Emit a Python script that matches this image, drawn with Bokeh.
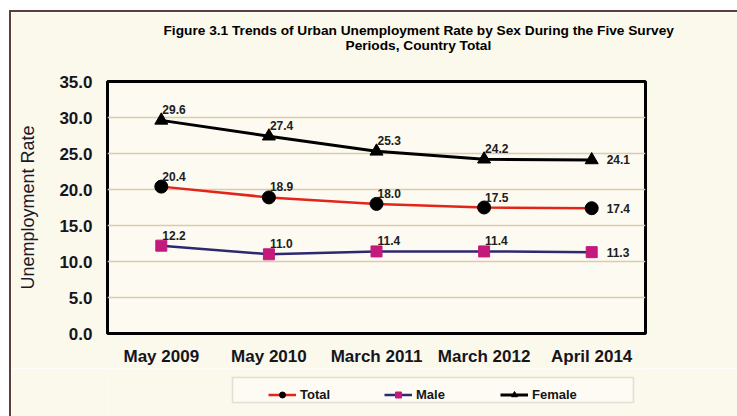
from bokeh.plotting import figure
from bokeh.layouts import column
from bokeh.models import (FactorRange, Range1d, ColumnDataSource, LabelSet, Title,
                          Legend, LegendItem, FixedTicker, PrintfTickFormatter, BoxAnnotation)
from bokeh.core.properties import value
from bokeh.embed import file_html
from bokeh.resources import INLINE

periods = ["May 2009", "May 2010", "March 2011", "March 2012", "April 2014"]
total = [20.4, 18.9, 18.0, 17.5, 17.4]
male = [12.2, 11.0, 11.4, 11.4, 11.3]
female = [29.6, 27.4, 25.3, 24.2, 24.1]
y_ticks = [0, 5, 10, 15, 20, 25, 30, 35]
title_line1 = "Figure 3.1  Trends of Urban Unemployment Rate by Sex During the Five Survey"
title_line2 = "Periods, Country Total"
y_label = "Unemployment Rate"
series_names = ["Total", "Male", "Female"]

BG = "#fbf8ec"
FONT = "Liberation Sans"
W = 726

total_style = dict(line_color="#e3241b", line_width=2.5)
male_style = dict(line_color="#2d2870", line_width=2.5)
female_style = dict(line_color="black", line_width=3)
total_mk = dict(marker="circle", size=13, fill_color="black", line_color="black")
male_mk = dict(marker="square", size=11, fill_color="#c41a7c", line_color="#c41a7c")
female_mk = dict(marker="triangle", size=13, fill_color="black", line_color="black")

src = ColumnDataSource(dict(x=periods, total=total, male=male, female=female))

# ---- main chart ----
p = figure(x_range=FactorRange(factors=periods, range_padding=0),
           y_range=Range1d(0, 35), width=W, height=356, title=None,
           output_backend="svg", toolbar_location=None,
           min_border_left=96, min_border_right=92, min_border_top=69, min_border_bottom=35)

p.border_fill_color = BG
p.background_fill_color = "#fcfaf1"
p.outline_line_color = "black"
p.outline_line_width = 3

p.xgrid.grid_line_color = None
p.ygrid.grid_line_color = "#dccbb3"
p.ygrid.grid_line_width = 1.5

p.yaxis.ticker = FixedTicker(ticks=y_ticks)
p.yaxis.formatter = PrintfTickFormatter(format="%.1f")
for ax in (p.xaxis[0], p.yaxis[0]):
    ax.axis_line_color = None
    ax.major_tick_line_color = None
    ax.minor_tick_line_color = None
    ax.major_tick_out = 0
    ax.major_tick_in = 0
    ax.minor_tick_out = 0
    ax.major_label_text_font = FONT
    ax.major_label_text_font_style = "bold"
    ax.major_label_text_font_size = "17px"
    ax.major_label_text_color = "#151520"
p.yaxis.major_label_standoff = 15
p.xaxis.major_label_standoff = 13

yax = p.yaxis[0]
yax.axis_label = y_label
yax.axis_label_text_font = FONT
yax.axis_label_text_font_style = "normal"
yax.axis_label_text_font_size = "18px"
yax.axis_label_text_color = "#1a1a2a"
yax.axis_label_standoff = 18

p.line("x", "total", source=src, **total_style)
p.scatter("x", "total", source=src, **total_mk)
p.line("x", "male", source=src, **male_style)
p.scatter("x", "male", source=src, **male_mk)
p.line("x", "female", source=src, **female_style)
p.scatter("x", "female", source=src, **female_mk)


def sub(lo, hi):
    return ColumnDataSource(dict(x=periods[lo:hi], total=total[lo:hi], male=male[lo:hi],
                                 female=female[lo:hi],
                                 tl=["%.1f" % v for v in total[lo:hi]],
                                 ml=["%.1f" % v for v in male[lo:hi]],
                                 fl=["%.1f" % v for v in female[lo:hi]]))


first4 = sub(0, 4)
last = sub(4, 5)
for col_, lab in (("total", "tl"), ("male", "ml"), ("female", "fl")):
    p.add_layout(LabelSet(x="x", y=col_, text=lab, source=first4, x_offset=1, y_offset=6,
                          text_align="left", text_baseline="alphabetic",
                          text_font=value(FONT), text_font_style="bold", text_font_size="12px",
                          text_color="#202020"))
    p.add_layout(LabelSet(x="x", y=col_, text=lab, source=last, x_offset=15, y_offset=0,
                          text_align="left", text_baseline="middle",
                          text_font=value(FONT), text_font_style="bold", text_font_size="12px",
                          text_color="#202020"))

# titles: spacer (closest to frame), line 2, then line 1
tstyle = dict(text_font=FONT, text_font_style="bold", text_font_size="13.7px", text_color="black")
p.add_layout(Title(text=" ", align="left", offset=0, standoff=11.5, **tstyle), "above")
p.add_layout(Title(text=title_line2, align="left", offset=238, standoff=0, **tstyle), "above")
p.add_layout(Title(text=title_line1, align="left", offset=56, standoff=-4, **tstyle), "above")

# ---- legend strip (same frame columns as the chart, data kept off-view) ----
fl = figure(width=W, height=48, x_range=FactorRange(factors=periods, range_padding=0),
            y_range=Range1d(100, 148), x_axis_type=None, y_axis_type=None, title=None,
            output_backend="svg", toolbar_location=None,
            min_border_left=96, min_border_right=92, min_border_top=0, min_border_bottom=0)
fl.border_fill_color = BG
fl.background_fill_color = BG
fl.outline_line_color = None
fl.xgrid.grid_line_color = None
fl.ygrid.grid_line_color = None
fl.add_layout(BoxAnnotation(left=1.162, right=4.888, bottom=114, top=139,
                            fill_color="#fdfbf3", fill_alpha=1,
                            line_color="#a9a39a", line_width=1.5))
rt = [fl.line("x", "total", source=src, **total_style), fl.scatter("x", "total", source=src, **total_mk)]
rm = [fl.line("x", "male", source=src, **male_style), fl.scatter("x", "male", source=src, **male_mk)]
rf = [fl.line("x", "female", source=src, **female_style), fl.scatter("x", "female", source=src, **female_mk)]
legend = Legend(items=[LegendItem(label=series_names[0], renderers=rt),
                       LegendItem(label=series_names[1], renderers=rm),
                       LegendItem(label=series_names[2], renderers=rf)],
                orientation="horizontal", location=(161, 14), margin=0,
                border_line_color=None, background_fill_alpha=0,
                padding=5, spacing=24, glyph_width=28, glyph_height=15,
                label_standoff=4, label_width=60, label_height=15,
                label_text_font=FONT, label_text_font_style="bold",
                label_text_font_size="13px", label_text_color="#151515")
fl.add_layout(legend, "center")

layout = column(p, fl, spacing=0)
layout.margin = (10, 0, 0, 9)
layout.styles = {"border-left": "2px solid #5e3d3d", "border-top": "2px solid #5e3d3d"}

html = file_html(layout, INLINE)
html = html.replace("<body>", '<body style="background:%s;">' % BG, 1)
open("out.html", "w").write(html)
